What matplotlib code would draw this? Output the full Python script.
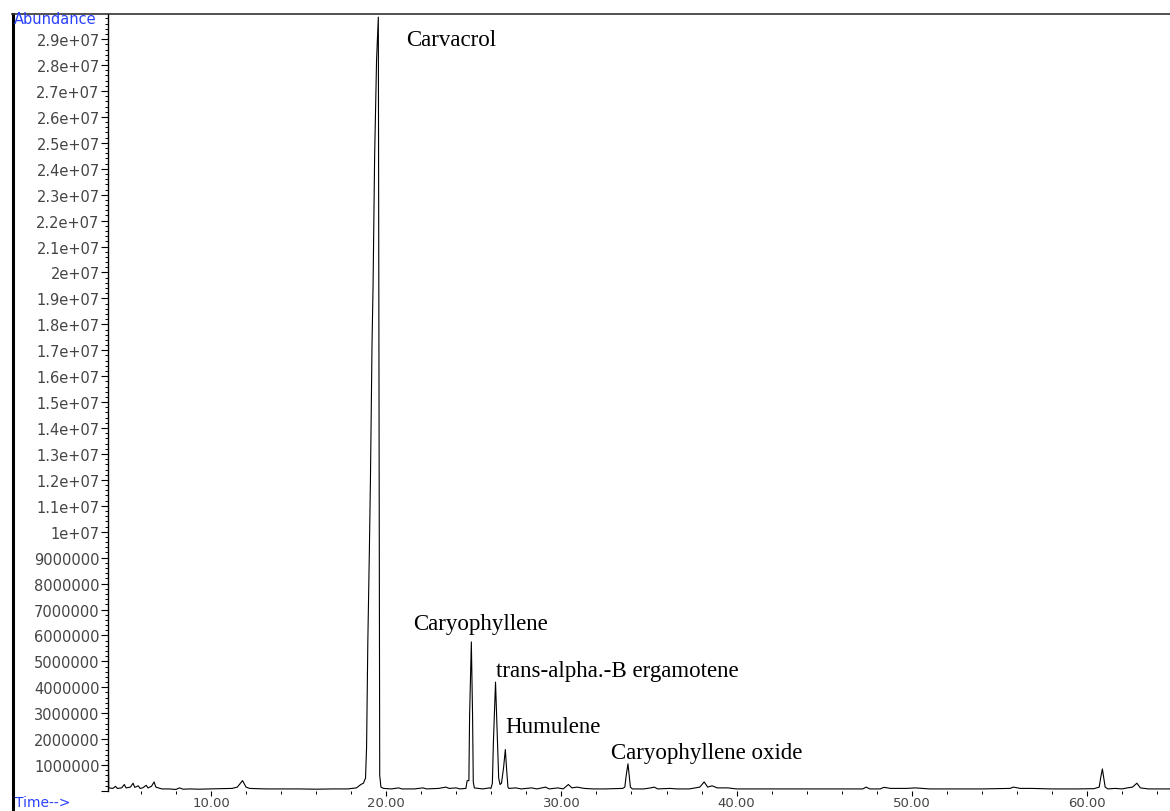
import numpy as np
import matplotlib
matplotlib.use("Agg")
import matplotlib.pyplot as plt
from matplotlib.lines import Line2D
from matplotlib.ticker import FuncFormatter, MultipleLocator

# retention time (min) and abundance (millions of counts)
time = [
    4.12, 4.16, 4.40, 4.55, 4.65, 4.90, 5.05, 5.15, 5.40, 5.55, 5.65, 5.85, 5.95,
    6.10, 6.30, 6.40, 6.60, 6.75, 6.85, 7.00, 7.20, 7.60, 8.00, 8.20, 8.40, 8.80,
    9.30, 10.00, 10.80, 11.20, 11.50, 11.80, 12.00, 12.20, 12.60, 13.20, 14.00,
    15.00, 16.00, 17.00, 17.80, 18.30, 18.55, 18.70,
    # carvacrol
    18.82, 18.88, 18.95, 19.04, 19.10, 19.19, 19.25, 19.34, 19.45, 19.55, 19.63,
    19.70, 19.85, 20.30, 20.70, 20.90, 21.60, 22.10, 22.30, 23.00, 23.40, 23.60,
    24.00, 24.20,
    # caryophyllene
    24.55, 24.62, 24.72, 24.76, 24.86, 24.93, 24.97, 25.03, 25.50, 25.90,
    # bergamotene / humulene
    25.98, 26.06, 26.12, 26.24, 26.33, 26.42, 26.50, 26.58, 26.70, 26.80, 26.88,
    26.95, 27.00, 27.40, 27.70, 28.30, 28.60, 29.10, 29.30, 29.80, 30.10, 30.40,
    30.60, 30.90, 31.30, 31.80, 32.50, 33.50,
    # caryophyllene oxide
    33.62, 33.70, 33.80, 33.87, 33.94, 34.05,
    34.70, 35.10, 35.30, 35.50, 36.20, 36.60, 37.30, 37.90, 38.15, 38.35, 38.60,
    38.90, 39.50, 40.00, 41.00, 43.00, 46.00, 47.20, 47.40, 47.60, 48.20, 48.40,
    48.80, 49.70, 50.20, 51.00, 52.00, 54.00, 55.60, 55.80, 56.20, 56.80, 58.00,
    59.50, 60.40, 60.70,
    60.78, 60.88, 60.96, 61.04,
    61.20, 61.60, 62.00, 62.30, 62.60, 62.85, 63.05, 63.50, 64.20, 64.80,
]
abundance = [
    3.30, 0.12, 0.10, 0.18, 0.10, 0.12, 0.25, 0.12, 0.15, 0.30, 0.14, 0.20, 0.10,
    0.12, 0.22, 0.12, 0.18, 0.35, 0.15, 0.12, 0.08, 0.08, 0.06, 0.12, 0.07, 0.08,
    0.07, 0.08, 0.09, 0.10, 0.15, 0.40, 0.15, 0.10, 0.09, 0.08, 0.08,
    0.08, 0.07, 0.08, 0.08, 0.12, 0.25, 0.30,
    0.50, 1.70, 5.70, 9.30, 12.0, 17.2, 19.5, 24.5, 28.2, 29.85, 0.60,
    0.15, 0.10, 0.08, 0.12, 0.08, 0.08, 0.12, 0.08, 0.10, 0.15, 0.10,
    0.12, 0.08,
    0.10, 0.40, 0.40, 2.90, 5.75, 2.90, 0.35, 0.12, 0.08, 0.12,
    0.10, 0.30, 1.90, 4.20, 2.30, 0.50, 0.25, 0.30, 0.90, 1.60, 0.77,
    0.15, 0.10, 0.12, 0.08, 0.12, 0.08, 0.15, 0.08, 0.12, 0.08, 0.25,
    0.12, 0.15, 0.10, 0.08, 0.08, 0.10,
    0.15, 0.60, 1.05, 0.60, 0.15, 0.08,
    0.08, 0.12, 0.15, 0.08, 0.10, 0.08, 0.08, 0.15, 0.35, 0.15, 0.20,
    0.12, 0.12, 0.08, 0.08, 0.08, 0.08, 0.08, 0.15, 0.08, 0.08, 0.14,
    0.10, 0.10, 0.12, 0.08, 0.08, 0.08, 0.10, 0.15, 0.10, 0.10, 0.08,
    0.08, 0.09, 0.15,
    0.50, 0.85, 0.50, 0.15,
    0.08, 0.10, 0.08, 0.12, 0.15, 0.30, 0.12, 0.08, 0.08, 0.08,
]

peak_names = ["Carvacrol", "Caryophyllene", "trans-alpha.-B ergamotene",
              "Humulene", "Caryophyllene oxide"]
label_time = [21.13, 21.53, 26.27, 26.78, 32.83]
label_abund = [29.0, 6.45, 4.65, 2.5, 1.5]

y = np.array(abundance) * 1e6

fig = plt.figure(figsize=(11.7, 8.12), dpi=100)
ax = fig.add_axes([108 / 1170, 20 / 812, 1 - 108 / 1170, 777 / 812])
ax.plot(time, y, color="black", lw=0.8)

for name, t, a in zip(peak_names, label_time, label_abund):
    ax.text(t, a * 1e6, name, family="Liberation Serif", fontsize=16.5,
            ha="left", va="center")

ax.set_xlim(4.12, 64.74)
ax.set_ylim(0, 2.997e7)

for s in ["top", "right", "bottom"]:
    ax.spines[s].set_visible(False)
ax.spines["left"].set_linewidth(1.0)

ax.xaxis.set_major_locator(MultipleLocator(10))
ax.xaxis.set_minor_locator(MultipleLocator(2))
ax.xaxis.set_major_formatter(FuncFormatter(lambda v, p: "%.2f" % v))
ax.yaxis.set_major_locator(MultipleLocator(1e6))
ax.yaxis.set_minor_locator(MultipleLocator(2e5))


def yfmt(v, p):
    if v <= 0:
        return ""
    if v >= 1e7 - 1:
        return "%g" % v
    return "%d" % round(v)


ax.yaxis.set_major_formatter(FuncFormatter(yfmt))
ax.tick_params(axis="y", which="major", direction="out", length=5,
               width=0.8, labelsize=10.5, labelcolor="#444444", pad=1)
ax.tick_params(axis="x", which="major", direction="out", length=3.5,
               width=0.8, labelsize=9.5, labelcolor="#444444", pad=0)
ax.tick_params(axis="both", which="minor", direction="out", length=2.5,
               width=0.7)

# outer frame of the report
fig.add_artist(Line2D([13 / 1170, 13 / 1170], [0, 797 / 812],
                      transform=fig.transFigure, color="black", lw=2.2))
fig.add_artist(Line2D([12 / 1170, 1], [797 / 812, 797 / 812],
                      transform=fig.transFigure, color="#333333", lw=1.2))

fig.text(14 / 1170, 1 - 19 / 812, "Abundance", color="#2a40ff", fontsize=10.5,
         ha="left", va="center")
fig.text(15 / 1170, 9 / 812, "Time-->", color="#2a40ff", fontsize=10,
         ha="left", va="center")

fig.savefig("out.png", dpi=100)
